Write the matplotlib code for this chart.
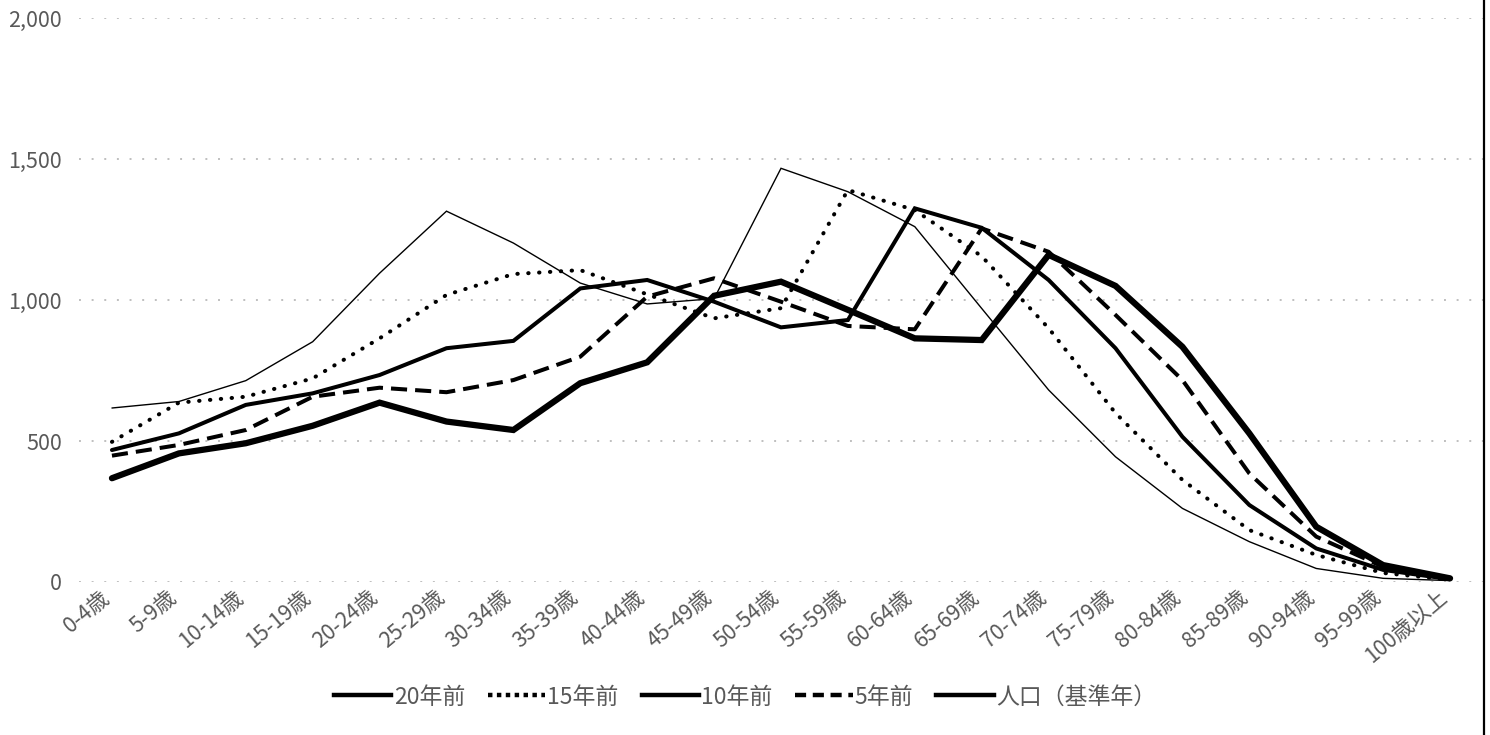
import matplotlib
matplotlib.use("Agg")
import matplotlib.pyplot as plt
from matplotlib.lines import Line2D
from matplotlib.ticker import FuncFormatter
from matplotlib.transforms import ScaledTranslation

plt.rcParams['font.family'] = ['Noto Sans CJK JP', 'DejaVu Sans']

ages = ['0-4歳', '5-9歳', '10-14歳', '15-19歳', '20-24歳', '25-29歳', '30-34歳',
        '35-39歳', '40-44歳', '45-49歳', '50-54歳', '55-59歳', '60-64歳', '65-69歳',
        '70-74歳', '75-79歳', '80-84歳', '85-89歳', '90-94歳', '95-99歳', '100歳以上']
y20 = [617, 640, 714, 852, 1095, 1315, 1202, 1060, 986, 1005, 1467, 1384, 1260, 970,
       681, 444, 261, 143, 48, 13, 5]
y15 = [497, 636, 657, 722, 864, 1018, 1092, 1106, 1020, 935, 971, 1390, 1319, 1155,
       900, 599, 362, 184, 96, 32, 8]
y10 = [468, 527, 628, 669, 734, 829, 855, 1041, 1071, 994, 903, 929, 1325, 1256,
       1071, 829, 515, 273, 119, 43, 10]
y5 = [448, 486, 539, 657, 689, 673, 716, 799, 1012, 1077, 994, 908, 896, 1254,
      1171, 947, 716, 385, 161, 54, 12]
ybase = [368, 456, 492, 554, 636, 569, 539, 705, 779, 1015, 1065, 965, 864, 858,
         1160, 1050, 834, 527, 196, 60, 13]
series_names = ['20年前', '15年前', '10年前', '5年前', '人口（基準年）']
yticks = [0, 500, 1000, 1500, 2000]

grey = '#595959'
W, H = 1490, 735
fig = plt.figure(figsize=(W / 100, H / 100), dpi=100)
ax = fig.add_axes([78.5 / W, 153 / H, 1405 / W, 564 / H])

x = list(range(len(ages)))
styles = [
    dict(lw=1.0, ls='-'),
    dict(lw=2.9, ls=(0, (0.1, 2.6)), dash_capstyle='round'),
    dict(lw=2.9, ls='-'),
    dict(lw=2.9, ls=(0, (4, 2))),
    dict(lw=4.5, ls='-'),
]
data = [y20, y15, y10, y5, ybase]
for d, st in zip(data, styles):
    ax.plot(x, d, color='black', solid_joinstyle='miter', solid_capstyle='round', **st)

ax.set_xlim(-0.5, len(ages) - 0.5)
ax.set_ylim(0, 2000)
ax.set_yticks(yticks)
ax.yaxis.set_major_formatter(FuncFormatter(lambda v, p: f'{int(v):,}'))
ax.grid(axis='y', color='#BFBFBF', lw=1.4, ls=(0, (1, 5.5)))
ax.set_axisbelow(True)
for s in ax.spines.values():
    s.set_visible(False)
ax.tick_params(axis='y', length=0, pad=12, labelsize=15.5, labelcolor=grey)
ax.tick_params(axis='x', length=0, pad=3, labelsize=15.5, labelcolor=grey)
ax.set_xticks(x)
ax.set_xticklabels(ages, rotation=40, ha='right', rotation_mode='anchor')
off = ScaledTranslation(-12 / 100, 0, fig.dpi_scale_trans)
for lbl in ax.get_xticklabels():
    lbl.set_transform(lbl.get_transform() + off)

handles = [
    Line2D([], [], color='black', lw=3.2, ls='-'),
    Line2D([], [], color='black', lw=3.2, ls=(0, (1, 1))),
    Line2D([], [], color='black', lw=3.2, ls='-'),
    Line2D([], [], color='black', lw=3.2, ls=(0, (2.5, 1.5))),
    Line2D([], [], color='black', lw=3.2, ls='-'),
]
leg = fig.legend(handles, series_names, loc='center', bbox_to_anchor=(0.5, 38 / H),
                 ncol=5, frameon=False, fontsize=16.5, handlelength=2.5,
                 handletextpad=0.1, columnspacing=1.0)
for t in leg.get_texts():
    t.set_color(grey)

fig.add_artist(Line2D([1484 / W, 1484 / W], [0, 1], color='black', lw=1.6,
                      transform=fig.transFigure))

fig.savefig('out.png', dpi=100)
